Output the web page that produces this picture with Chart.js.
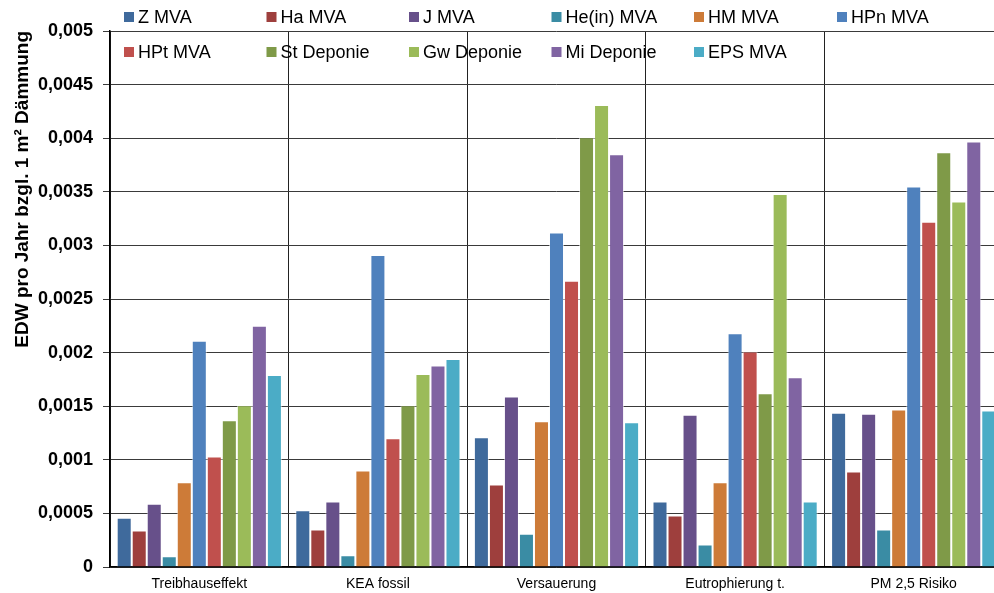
<!DOCTYPE html>
<html>
<head>
<meta charset="utf-8">
<script src="https://cdn.jsdelivr.net/npm/chart.js@4.4.1/dist/chart.umd.min.js"></script>
<style>
  html, body { margin: 0; padding: 0; background: #fff; overflow: hidden; }
  #wrap { position: relative; width: 1010px; height: 593px; }
</style>
</head>
<body>
<div id="wrap"><canvas id="chart"></canvas></div>
<script>
// categories on the x axis
const categories = ['Treibhauseffekt', 'KEA fossil', 'Versauerung', 'Eutrophierung t.', 'PM 2,5 Risiko'];

// series names (legend order)
const seriesNames = ['Z MVA', 'Ha MVA', 'J MVA', 'He(in) MVA', 'HM MVA', 'HPn MVA',
  'HPt MVA', 'St Deponie', 'Gw Deponie', 'Mi Deponie', 'EPS MVA'];

// values per series, one per category
const zMva      = [0.00046, 0.00053, 0.00121, 0.00061, 0.00144];
const haMva     = [0.00034, 0.00035, 0.00077, 0.00048, 0.00089];
const jMva      = [0.00059, 0.00061, 0.00159, 0.00142, 0.00143];
const heInMva   = [0.00010, 0.00011, 0.00031, 0.00021, 0.00035];
const hmMva     = [0.00079, 0.00090, 0.00136, 0.00079, 0.00147];
const hpnMva    = [0.00211, 0.00291, 0.00312, 0.00218, 0.00355];
const hptMva    = [0.00103, 0.00120, 0.00267, 0.00201, 0.00322];
const stDeponie = [0.00137, 0.00151, 0.00401, 0.00162, 0.00387];
const gwDeponie = [0.00151, 0.00180, 0.00431, 0.00348, 0.00341];
const miDeponie = [0.00225, 0.00188, 0.00385, 0.00177, 0.00397];
const epsMva    = [0.00179, 0.00194, 0.00135, 0.00061, 0.00146];

const seriesValues = [zMva, haMva, jMva, heInMva, hmMva, hpnMva,
  hptMva, stDeponie, gwDeponie, miDeponie, epsMva];

// y axis tick labels (German decimal comma)
const yTickLabels = ['0', '0,0005', '0,001', '0,0015', '0,002', '0,0025',
  '0,003', '0,0035', '0,004', '0,0045', '0,005'];

const seriesColors = ['#3F6A9C', '#9E3F3D', '#67508A', '#3A8CA4', '#CD7B38', '#4F81BD',
  '#C0504D', '#7F9A48', '#9BBB59', '#8064A2', '#4BACC6'];

const FONT = '"Liberation Sans", Arial, sans-serif';

// legend drawn by hand: two rows, overlapping the top of the plot like the original
const legendPlugin = {
  id: 'legendRows',
  afterDraw(chart) {
    const ctx = chart.ctx;
    const colX = [124, 266.5, 409, 551.5, 694, 837];
    const rowY = [17, 52];
    ctx.save();
    ctx.font = '18px ' + FONT;
    ctx.textBaseline = 'middle';
    ctx.textAlign = 'left';
    chart.data.datasets.forEach((ds, i) => {
      const row = i < 6 ? 0 : 1;
      const col = i < 6 ? i : i - 6;
      const x = colX[col];
      const y = rowY[row];
      ctx.fillStyle = ds.backgroundColor;
      ctx.fillRect(x, y - 5, 10, 10);
      ctx.fillStyle = '#000';
      ctx.fillText(ds.label, x + 14, y + 1);
    });
    ctx.restore();
  }
};

new Chart(document.getElementById('chart'), {
  type: 'bar',
  data: {
    labels: categories,
    datasets: seriesNames.map((name, i) => ({
      label: name,
      data: seriesValues[i],
      backgroundColor: seriesColors[i],
      borderColor: 'rgba(255,255,255,0.55)',
      borderWidth: 1,
      borderSkipped: 'bottom',
      barPercentage: 1,
      categoryPercentage: 0.925
    }))
  },
  options: {
    responsive: true,
    maintainAspectRatio: false,
    animation: false,
    layout: { padding: { top: 31, left: 0, right: 7, bottom: 0 } },
    plugins: {
      legend: { display: false },
      tooltip: { enabled: false }
    },
    scales: {
      x: {
        grid: { offset: true, color: '#222', lineWidth: 1, drawTicks: false },
        border: { color: '#000', width: 1.5 },
        ticks: { color: '#000', font: { family: FONT, size: 14 }, padding: 9, maxRotation: 0 },
        afterFit(scale) { scale.height = 26; }
      },
      y: {
        min: 0,
        max: 0.005,
        ticks: {
          stepSize: 0.0005,
          color: '#000',
          padding: 10,
          font: { family: FONT, size: 18, weight: 'bold' },
          callback: (v) => yTickLabels[Math.round(v / 0.0005)]
        },
        grid: { color: '#3a3a3a', lineWidth: 1, tickLength: 7 },
        border: { color: '#000', width: 1.5 },
        title: {
          display: true,
          text: 'EDW pro Jahr bzgl. 1 m² Dämmung',
          color: '#000',
          align: 'end',
          font: { family: FONT, size: 19, weight: 'bold' },
          padding: { top: 11, bottom: 0 }
        },
        afterFit(scale) { scale.width = 110; }
      }
    }
  },
  plugins: [legendPlugin]
});
</script>
</body>
</html>
